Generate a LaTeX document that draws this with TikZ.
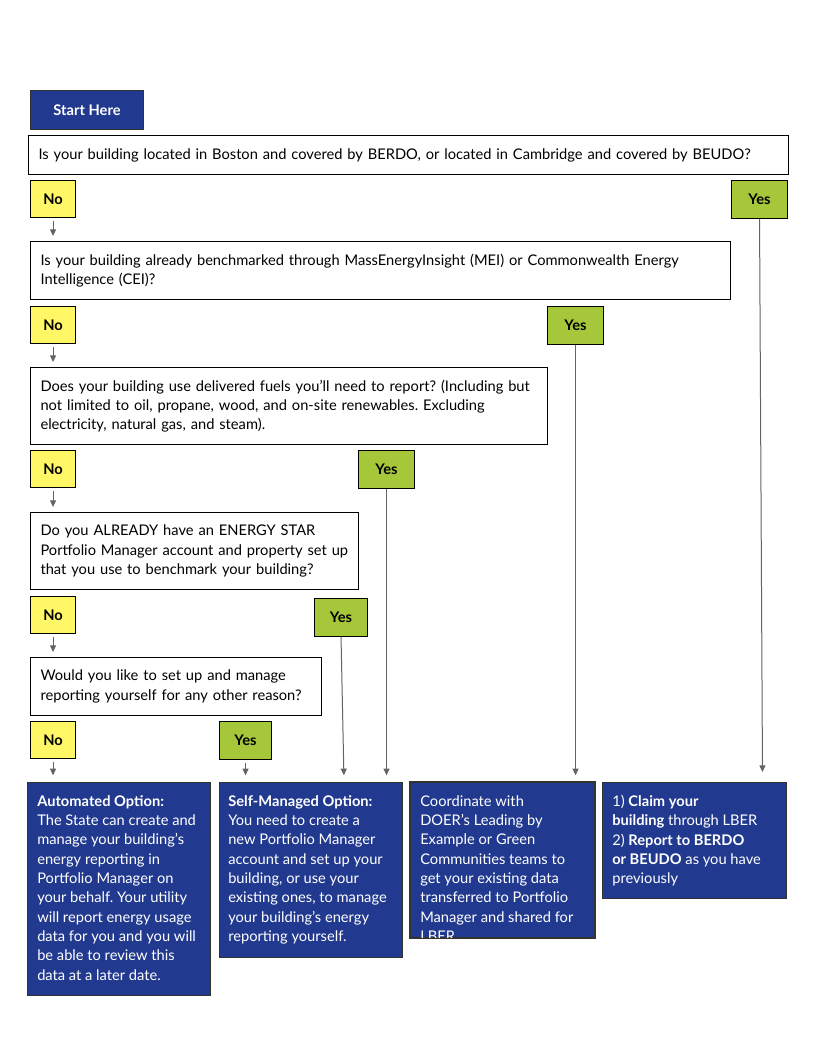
\documentclass[tikz,border=0pt]{standalone}
\usepackage{fontspec}
\setmainfont{Lato}
\usetikzlibrary{arrows.meta}
\definecolor{optblue}{RGB}{33,58,143}
\definecolor{noyellow}{RGB}{255,247,102}
\definecolor{yesgreen}{RGB}{166,199,58}
\definecolor{flowgray}{RGB}{100,100,100}
\newcommand{\qfont}{\fontsize{11}{14.5}\selectfont}
\frenchspacing
\tikzset{
question/.style={draw, line width=0.8pt, fill=white, anchor=north west, align=left,
  inner xsep=7.5pt, inner ysep=0pt, font=\qfont},
nobox/.style={draw, line width=0.8pt, fill=noyellow, anchor=north west,
  minimum width=33.75pt, minimum height=27.75pt, inner sep=0pt, font=\qfont\bfseries},
yesbox/.style={nobox, fill=yesgreen, minimum width=42pt, minimum height=28.5pt},
optbox/.style={draw=black!80, line width=0.8pt, fill=optblue, anchor=north west, inner sep=0pt},
opttext/.style={anchor=north west, text=white, align=left, inner sep=0pt, font=\qfont},
flow/.style={draw=flowgray, line width=0.75pt, -{Triangle[length=5pt,width=4.5pt]}}
}
\begin{document}
\begin{tikzpicture}[x=0.75pt, y=-0.75pt]
  \useasboundingbox (0,0) rectangle (816,1056);
  % start and questions
  \node[optbox, minimum width=84.75pt, minimum height=29.25pt, text=white, font=\qfont\bfseries] (start) at (30,90) {Start Here};
  \node[question, text width=555pt, minimum height=29.25pt] (berdo) at (28,135)
    {Is your building located in Boston and covered by BERDO, or located in Cambridge and covered by BEUDO?};
  \node[nobox] (noberdo) at (30,180) {No};
  \node[yesbox] (yesberdo) at (731,180) {Yes};

  \node[question, text width=510pt, minimum height=43.5pt] (mei) at (30,241)
    {Is your building already benchmarked through MassEnergyInsight (MEI) or Commonwealth Energy\\
     Intelligence (CEI)?};
  \node[nobox] (nomei) at (30,306) {No};
  \node[yesbox] (yesmei) at (547,306) {Yes};

  \node[question, text width=372.75pt, minimum height=57.75pt] (fuels) at (30,367)
    {Does your building use delivered fuels you’ll need to report? (Including but\\
     not limited to oil, propane, wood, and on-site renewables. Excluding\\
     electricity, natural gas, and steam).};
  \node[nobox] (nofuels) at (30,450) {No};
  \node[yesbox] (yesfuels) at (358,450) {Yes};

  \node[question, text width=231pt, minimum height=57.75pt] (espm) at (30,512)
    {Do you ALREADY have an ENERGY STAR\\
     Portfolio Manager account and property set up\\
     that you use to benchmark your building?};
  \node[nobox] (noespm) at (30,596) {No};
  \node[yesbox, minimum width=39.75pt] (yesespm) at (314,598) {Yes};

  \node[question, text width=203.25pt, minimum height=43.5pt] (selfq) at (30,657)
    {Would you like to set up and manage\\
     reporting yourself for any other reason?};
  \node[nobox] (noself) at (30,721) {No};
  \node[yesbox, minimum width=39pt] (yesself) at (219,721) {Yes};

  % outcomes
  \node[optbox, minimum width=137.25pt, minimum height=159.75pt] (auto) at (27,782) {};
  \node[opttext] (autotext) at ([shift={(10,13)}]auto.north west)
    {\textbf{Automated Option:}\\
     The State can create and\\
     manage your building’s\\
     energy reporting in\\
     Portfolio Manager on\\
     your behalf. Your utility\\
     will report energy usage\\
     data for you and you will\\
     be able to review this\\
     data at a later date.};
  \node[optbox, minimum width=137.25pt, minimum height=131.25pt] (selfopt) at (219,782) {};
  \node[opttext] (selftext) at ([shift={(9,13)}]selfopt.north west)
    {\textbf{Self-Managed Option:}\\
     You need to create a\\
     new Portfolio Manager\\
     account and set up your\\
     building, or use your\\
     existing ones, to manage\\
     your building\char"27 s energy\\
     reporting yourself.};
  \node[optbox, minimum width=138pt, minimum height=116.25pt] (lbe) at (410,782) {};
  \begin{scope}
    \clip (lbe.north west) rectangle (lbe.south east);
    \node[opttext] (lbetext) at ([shift={(10,13)}]lbe.north west)
      {Coordinate with\\
       DOER’s Leading by\\
       Example or Green\\
       Communities teams to\\
       get your existing data\\
       transferred to Portfolio\\
       Manager and shared for\\
       LBER};
  \end{scope}
  \draw[draw=black!80, line width=0.8pt] (lbe.north west) rectangle (lbe.south east);
  \node[optbox, minimum width=138pt, minimum height=87pt] (claim) at (602,782) {};
  \node[opttext] (claimtext) at ([shift={(10,13)}]claim.north west)
    {1) \textbf{Claim your}\\
     \textbf{building} through LBER\\
     2) \textbf{Report to BERDO}\\
     \textbf{or BEUDO} as you have\\
     previously};

  % arrows
  \draw[flow, shorten <=2.25pt, shorten >=3.75pt] (noberdo.south) -- (noberdo.south |- mei.north);
  \draw[flow, shorten <=2.25pt, shorten >=3.75pt] (nomei.south) -- (nomei.south |- fuels.north);
  \draw[flow, shorten <=2.25pt, shorten >=3.75pt] (nofuels.south) -- (nofuels.south |- espm.north);
  \draw[flow, shorten <=2.25pt, shorten >=3.75pt] (noespm.south) -- (noespm.south |- selfq.north);
  \draw[flow, shorten <=2.25pt, shorten >=5pt] (noself.south) -- (noself.south |- auto.north);
  \draw[flow, shorten <=2.25pt, shorten >=5pt] (yesself.south) -- (yesself.south |- selfopt.north);
  \draw[flow, shorten >=5pt] (yesespm.south) -- ([xshift=2.25pt]yesespm.south |- selfopt.north);
  \draw[flow, shorten >=5pt] (yesfuels.south) -- (yesfuels.south |- selfopt.north);
  \draw[flow, shorten >=5pt] (yesmei.south) -- (yesmei.south |- lbe.north);
  \draw[flow, shorten >=7.5pt] (yesberdo.south) -- ([xshift=2.25pt]yesberdo.south |- claim.north);
\end{tikzpicture}
\end{document}
